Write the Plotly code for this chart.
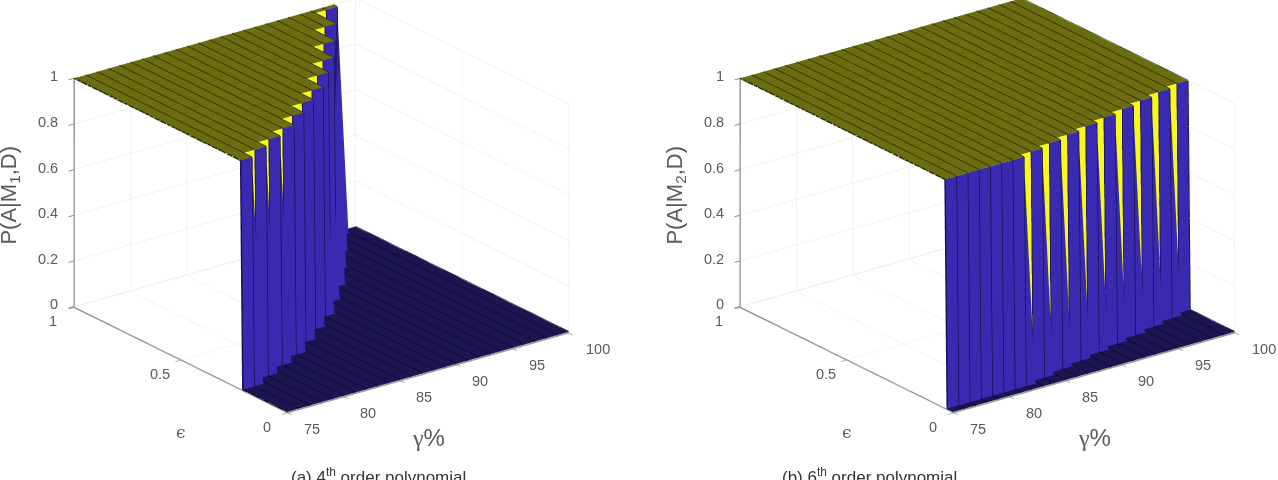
import numpy as np
import plotly.graph_objects as go

# Confidence level grid and the two tolerance grids
gamma_values = [75, 76, 77, 78, 79, 80, 81, 82, 83, 84, 85, 86, 87,
                88, 89, 90, 91, 92, 93, 94, 95, 96, 97, 98, 99, 100]
eps_step = 0.01

# Smallest epsilon at which P(A|M,D) jumps to 1, one entry per gamma value
threshold_m1 = [0.22, 0.22, 0.26, 0.26, 0.30, 0.30, 0.34, 0.34, 0.40, 0.40, 0.46, 0.46, 0.52,
                0.52, 0.60, 0.60, 0.68, 0.68, 0.78, 0.78, 0.88, 0.88, 0.98, 0.98, 1.02, 1.02]
threshold_m2 = [0.04, 0.04, 0.04, 0.04, 0.04, 0.04, 0.04, 0.04, 0.06, 0.06, 0.08, 0.08, 0.10,
                0.10, 0.12, 0.12, 0.14, 0.14, 0.16, 0.16, 0.18, 0.18, 0.20, 0.20, 0.22, 0.22]

gamma_ticks = [75, 80, 85, 90, 95, 100]
eps_ticks = [0, 0.5, 1]
prob_ticks = [0, 0.2, 0.4, 0.6, 0.8, 1]
eps_tick_text = ["0", "0.5", "1"]
prob_tick_text = ["0", "0.2", "0.4", "0.6", "0.8", "1"]

YELLOW = "#f7f91e"
OLIVE = "#6c6c10"
BLUE = "#3a2ab2"
NAVY = "#1c1552"
LINE_TOP = "#2c2c02"
LINE_WALL = "#17124e"
LINE_FLOOR = "#0c0a30"
TEXT = "#5a5a5a"
FONT = "Liberation Sans, Arial, sans-serif"

epsilon = np.round(np.arange(0, 1 + eps_step / 2, eps_step), 4)


def surface_traces(thresholds):
    g = np.array(gamma_values, float)
    t = np.array(thresholds)
    z = (epsilon[None, :] >= t[:, None] - 1e-9).astype(float)
    ng, ne = z.shape
    gg, ee = np.meshgrid(g, epsilon, indexing="ij")
    idx = np.arange(ng * ne).reshape(ng, ne)
    a = idx[:-1, :-1].ravel()
    b = idx[1:, :-1].ravel()
    c = idx[1:, 1:].ravel()
    d = idx[:-1, 1:].ravel()
    m = (z[:-1, :-1] + z[1:, :-1] + z[1:, 1:] + z[:-1, 1:]).ravel() / 4
    cell = np.where(m == 1, OLIVE, np.where(m == 0, NAVY, np.where(m >= 0.75, YELLOW, BLUE)))
    mesh = go.Mesh3d(
        x=gg.ravel(), y=ee.ravel(), z=z.ravel(),
        i=np.concatenate([a, a]), j=np.concatenate([b, c]), k=np.concatenate([c, d]),
        facecolor=np.concatenate([cell, cell]),
        flatshading=True,
        lighting=dict(ambient=1, diffuse=0, specular=0, roughness=1, fresnel=0),
        hoverinfo="skip", showscale=False,
    )
    # Mesh edges that run along epsilon, split by height so each part gets its own shade
    parts = {LINE_TOP: ([], [], []), LINE_WALL: ([], [], []), LINE_FLOOR: ([], [], [])}
    for gi, row in zip(g, z):
        for e0, e1, z0, z1 in zip(epsilon[:-1], epsilon[1:], row[:-1], row[1:]):
            key = LINE_TOP if z0 == 1 else LINE_FLOOR if z1 == 0 else LINE_WALL
            px, py, pz = parts[key]
            px += [gi, gi, None]
            py += [e0, e1, None]
            pz += [z0, z1, None]
    lines = [
        go.Scatter3d(x=p[0], y=p[1], z=p[2], mode="lines",
                     line=dict(color=col, width=3), hoverinfo="skip", showlegend=False)
        for col, p in parts.items() if p[0]
    ]
    return [mesh] + lines


def set_scene(tr, name):
    for item in tr:
        item.scene = name
    return tr


W, H = 1278, 480
# An orthographic scene maps one aspect unit to half of the plot height
UNIT_PX = H / 2
BOX_PX = 353.0
ELEV = np.radians(22.0)
AZIM = np.radians(37.2)
DIST = 2.5
center_z = -34.5 / (UNIT_PX * np.cos(ELEV))


def axis(vals, rng):
    return dict(range=rng, tickvals=vals, showticklabels=False, title=dict(text=""),
                showgrid=True, gridcolor="#e6e6e6", gridwidth=1,
                zeroline=False, showbackground=False, showspikes=False,
                showline=True, linecolor="#8c8c8c", linewidth=3,
                ticks="outside", ticklen=7, tickcolor="#8c8c8c", tickwidth=2)


def text_note(x, y, z, text, xs, ys, size=14.5, anchor="center", color=TEXT, family=FONT, angle=0):
    return dict(x=x, y=y, z=z, text=text, showarrow=False, xshift=xs, yshift=-ys,
                xanchor=anchor, yanchor="middle", textangle=angle,
                font=dict(size=size, color=color, family=family))


def scene_layout(domain_px, z_label):
    notes = []
    for v in gamma_ticks:
        notes.append(text_note(v, 0, 0, str(v), 24 if v < 100 else 29, 17))
    for v, s in zip(eps_ticks, eps_tick_text):
        notes.append(text_note(75, v, 0, s, -21, 15))
    for v, s in zip(prob_ticks, prob_tick_text):
        notes.append(text_note(75, 1, v, s, -14, -2, anchor="right"))
    notes.append(text_note(75, 0.5, 0, "ϵ", 0, 73, size=17, family="DejaVu Serif, serif"))
    notes.append(text_note(87.5, 0, 0, '<span style="font-family:Liberation Serif">γ</span>%', 0, 66, size=24))
    notes.append(text_note(75, 1, 0.5, z_label, -64, 3, size=22, angle=-90))
    return dict(
        domain=dict(x=[domain_px[0] / W, domain_px[1] / W], y=[0, 1]),
        xaxis=axis(gamma_ticks, [75, 100]),
        yaxis=axis(eps_ticks, [0, 1]),
        # A hair below zero keeps the floor grid from showing through the surface
        zaxis=axis(prob_ticks, [-0.004, 1]),
        aspectmode="manual",
        aspectratio=dict(x=BOX_PX / UNIT_PX, y=BOX_PX / UNIT_PX, z=0.70 * BOX_PX / UNIT_PX),
        camera=dict(
            projection=dict(type="orthographic"),
            up=dict(x=0, y=0, z=1),
            center=dict(x=0, y=0, z=center_z),
            eye=dict(x=-DIST * np.sin(AZIM) * np.cos(ELEV),
                     y=-DIST * np.cos(AZIM) * np.cos(ELEV),
                     z=DIST * np.sin(ELEV) + center_z),
        ),
        annotations=notes,
    )


fig = go.Figure()
fig.add_traces(set_scene(surface_traces(threshold_m1), "scene"))
fig.add_traces(set_scene(surface_traces(threshold_m2), "scene2"))

fig.update_layout(
    width=W, height=H, margin=dict(l=0, r=0, t=0, b=0),
    paper_bgcolor="white", showlegend=False,
    scene=scene_layout((0, 643), "P(A|M<sub>1</sub>,D)"),
    scene2=scene_layout((697, 1278), "P(A|M<sub>2</sub>,D)"),
    annotations=[
        dict(x=289 / W, y=1 - 476 / H, xref="paper", yref="paper", showarrow=False, yanchor="middle",
             text="(a) 4<sup>th</sup> order polynomial", font=dict(size=17, color="#333", family=FONT)),
        dict(x=959 / W, y=1 - 476 / H, xref="paper", yref="paper", showarrow=False, yanchor="middle",
             text="(b) 6<sup>th</sup> order polynomial", font=dict(size=17, color="#333", family=FONT)),
    ],
)

fig.write_html("out.html")
